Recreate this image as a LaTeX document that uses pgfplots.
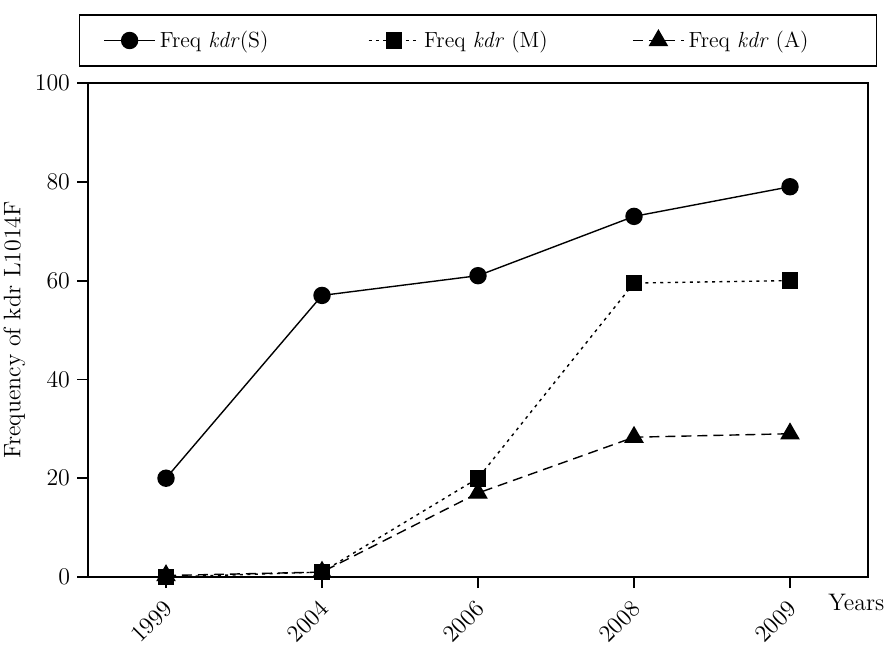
\documentclass[border=0pt]{standalone}
\usepackage{pgfplots}
\pgfplotsset{compat=1.18}
\begin{document}
\begin{tikzpicture}[x=1bp,y=1bp]
\begin{axis}[
  at={(44bp,0bp)},
  anchor=south west,
  width=390bp, height=247bp,
  scale only axis,
  font=\large,
  xmin=-0.5, xmax=4.5,
  ymin=0, ymax=100,
  xtick={0,1,2,3,4},
  xticklabels={1999,2004,2006,2008,2009},
  ytick={0,20,40,60,80,100},
  xtick pos=bottom, ytick pos=left,
  tick align=outside,
  major tick length=5.5bp,
  tick style={black, line width=0.9bp},
  axis line style={line width=0.9bp},
  tick label style={font=\large},
  xticklabel style={rotate=45, anchor=north east, inner sep=1bp, yshift=-1.5bp, xshift=-4bp},
  ylabel={Frequency of kdr\ L1014F},
  ylabel style={font=\large, yshift=-2bp},
  xlabel={Years},
  xlabel style={font=\large, at={(axis description cs:0.985,0)}, anchor=north, yshift=-5bp},
  clip=false,
  legend columns=3,
  legend cell align=left,
  legend style={at={(0.5,1)}, anchor=south, yshift=8bp, draw=black, line width=0.8bp,
    font=\fontsize{11}{13}\selectfont,
    inner xsep=12bp, inner ysep=6bp,
    /tikz/every even column/.append style={column sep=22bp}},
  legend image code/.code={\draw[mark repeat=2,mark phase=2] plot coordinates {(0cm,0cm) (0.45cm,0cm) (0.9cm,0cm)};},
]
\addplot[black, line width=0.7bp, mark=*, mark size=4bp, mark options={solid}] coordinates {(0,20) (1,57) (2,61) (3,73) (4,79)};
\addlegendentry{\makebox[80bp][l]{Freq \textit{kdr}(S)}}
\addplot[black, line width=0.7bp, dash pattern=on 1.5bp off 2.2bp, mark=square*, mark size=3.8bp, mark options={solid}] coordinates {(0,0) (1,1) (2,20) (3,59.5) (4,60)};
\addlegendentry{\makebox[80bp][l]{Freq \textit{kdr} (M)}}
\addplot[black, line width=0.7bp, dash pattern=on 5bp off 3bp, mark=triangle*, mark size=5bp, mark options={solid}] coordinates {(0,0.3) (1,1) (2,17) (3,28.3) (4,29)};
\addlegendentry{\makebox[80bp][l]{Freq \textit{kdr} (A)}}
\end{axis}
\pgfresetboundingbox
\useasboundingbox (0,-34) rectangle (442,288.5);
\end{tikzpicture}
\end{document}
